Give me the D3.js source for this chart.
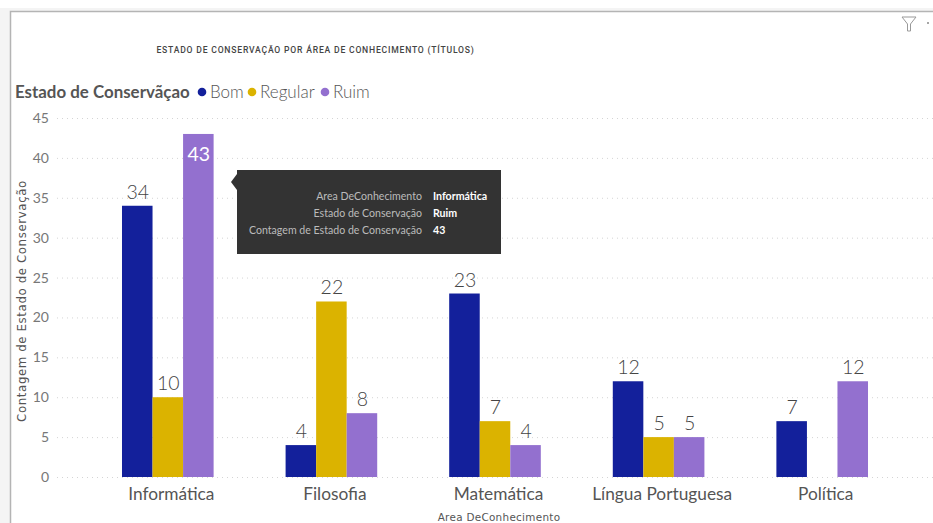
<!DOCTYPE html>
<html><head><meta charset="utf-8">
<script src="https://cdn.jsdelivr.net/npm/d3@7"></script>
<style>html,body{margin:0;padding:0;background:#fff}svg{display:block}text{font-family:Lato,sans-serif}</style>
</head><body><svg id="c" width="933" height="523"></svg>
<script>
const categories=["Informática","Filosofia","Matemática","Língua Portuguesa","Política"];
const seriesNames=["Bom","Regular","Ruim"];
const bom=[34,4,23,12,7];
const regular=[10,22,7,5,null];
const ruim=[43,8,4,5,12];
const seriesValues=[bom,regular,ruim];
const colors=["#13209b","#dbb300","#9370cf"];
const yTicks=[0,5,10,15,20,25,30,35,40,45];
const tipLabels=["Area DeConhecimento","Estado de Conservação","Contagem de Estado de Conservação"];
const tipValues=["Informática","Ruim","43"];

const svg=d3.select("#c");
svg.append("rect").attr("x",0).attr("y",8).attr("width",933).attr("height",3).attr("fill","#f4f4f4");
svg.append("rect").attr("x",0).attr("y",8).attr("width",10).attr("height",515).attr("fill","#f4f4f4");
svg.append("path").attr("d","M10.5,523V11.5H933").attr("fill","none").attr("stroke","#b4b4b4").attr("stroke-width",1.5);

const y=d3.scaleLinear().domain([0,45]).range([477,118]);
const x0=d3.scaleBand().domain(categories).range([86,904]).paddingInner(0.44).paddingOuter(0.22);
const x1=d3.scaleBand().domain(seriesNames).range([0,x0.bandwidth()]);

svg.append("text").attr("x",315.5).attr("y",53).attr("text-anchor","middle").attr("font-size",8.6)
 .attr("font-weight",500).attr("letter-spacing",0.8).attr("fill","#444").style("font-family","Roboto,sans-serif")
 .text("ESTADO DE CONSERVAÇÃO POR ÁREA DE CONHECIMENTO (TÍTULOS)");

const lg=svg.append("g");
lg.append("text").attr("x",15).attr("y",98).attr("font-size",16.9).attr("font-weight",700).attr("fill","#555").text("Estado de Conservãçao");
const legendX=[202,252,325];
seriesNames.forEach((s,i)=>{
 lg.append("circle").attr("cx",legendX[i]).attr("cy",92).attr("r",4.3).attr("fill",colors[i]);
 lg.append("text").attr("x",legendX[i]+8).attr("y",98).attr("font-size",17).attr("font-weight",300).attr("fill","#555").text(s);
});

const ya=svg.append("g").attr("transform","translate(53,0)").call(d3.axisLeft(y).tickValues(yTicks).tickSize(0).tickPadding(4));
ya.select(".domain").remove();
ya.selectAll("text").attr("font-size",14).attr("fill","#777").style("font-family","Lato,sans-serif");
svg.append("g").selectAll("line").data(yTicks).join("line")
 .attr("x1",57).attr("x2",933).attr("y1",d=>y(d)+.5).attr("y2",d=>y(d)+.5)
 .attr("stroke","#d4d4d4").attr("stroke-dasharray","1 4");
svg.append("text").attr("transform","translate(26,301) rotate(-90)").attr("text-anchor","middle")
 .attr("font-size",11.8).attr("letter-spacing",0.6).attr("fill","#555").style("font-family","'DejaVu Sans',sans-serif")
 .text("Contagem de Estado de Conservação");

seriesNames.forEach((s,i)=>{
 const g=svg.append("g");
 const data=categories.map((c,j)=>({c,v:seriesValues[i][j]})).filter(d=>d.v!==null);
 g.selectAll("rect").data(data).join("rect")
  .attr("x",d=>x0(d.c)+x1(s)).attr("width",x1.bandwidth()).attr("y",d=>y(d.v)).attr("height",d=>y(0)-y(d.v)).attr("fill",colors[i]);
 g.selectAll("text").data(data).join("text")
  .attr("x",d=>x0(d.c)+x1(s)+x1.bandwidth()/2+.5)
  .attr("y",d=>d.v===43?y(d.v)+27:y(d.v)-7)
  .attr("text-anchor","middle").attr("font-size",19.5).attr("font-weight",d=>d.v===43?400:300)
  .attr("fill",d=>d.v===43?"#fff":"#444").text(d=>d.v);
});

const xa=svg.append("g").attr("transform","translate(3.5,477)").call(d3.axisBottom(x0).tickSize(0).tickPadding(11));
xa.select(".domain").remove();
xa.selectAll("text").attr("font-size",17.3).attr("fill","#555").style("font-family","Lato,sans-serif");
svg.append("text").attr("x",499).attr("y",521).attr("text-anchor","middle").attr("font-size",10.4).attr("letter-spacing",0.3).attr("fill","#555")
 .style("font-family","'DejaVu Sans',sans-serif").text("Area DeConhecimento");

const tip=svg.append("g");
tip.append("rect").attr("x",237).attr("y",170).attr("width",264).attr("height",84).attr("fill","#333");
tip.append("path").attr("d","M237,174L231,182L237,190Z").attr("fill","#333");
tipLabels.forEach((t,i)=>{
 tip.append("text").attr("x",422).attr("y",200+i*17).attr("text-anchor","end").attr("font-size",10.6).attr("fill","#bbb").text(t);
 tip.append("text").attr("x",433).attr("y",200+i*17).attr("font-size",10.6).attr("font-weight",700).attr("fill","#fff").text(tipValues[i]);
});

svg.append("path").attr("d","M902,17H916L910.5,24V31H907.5V24Z").attr("fill","none").attr("stroke","#999");
svg.append("circle").attr("cx",928).attr("cy",23).attr("r",1).attr("fill","#888");
</script></body></html>
